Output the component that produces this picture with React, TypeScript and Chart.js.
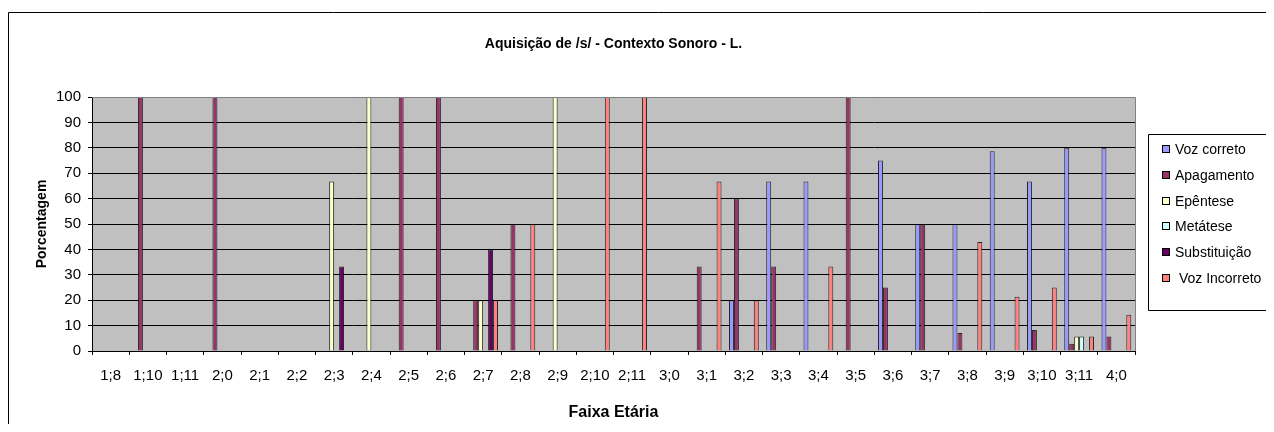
import React, { useEffect, useRef } from "react";
import { Chart, registerables } from "chart.js";

Chart.register(...registerables);

const categories = ["1;8", "1;10", "1;11", "2;0", "2;1", "2;2", "2;3", "2;4", "2;5", "2;6", "2;7", "2;8", "2;9", "2;10", "2;11", "3;0", "3;1", "3;2", "3;3", "3;4", "3;5", "3;6", "3;7", "3;8", "3;9", "3;10", "3;11", "4;0"];

const vozCorreto = [null, null, null, null, null, null, null, null, null, null, null, null, null, null, null, null, null, 20, 66.7, 66.7, null, 75, 50, 50, 78.6, 66.7, 80, 80];
const apagamento = [null, 100, null, 100, null, null, null, null, 100, 100, 20, 50, null, null, null, null, 33.3, 60, 33.3, null, 100, 25, 50, 7.1, null, 8.3, 2.9, 5.7];
const epentese = [null, null, null, null, null, null, 66.7, 100, null, null, 20, null, 100, null, null, null, null, null, null, null, null, null, null, null, null, null, 5.7, null];
const metatese = [null, null, null, null, null, null, null, null, null, null, null, null, null, null, null, null, null, null, null, null, null, null, null, null, null, null, 5.7, null];
const substituicao = [null, null, null, null, null, null, 33.3, null, null, null, 40, null, null, null, null, null, null, null, null, null, null, null, null, null, null, null, null, null];
const vozIncorreto = [null, null, null, null, null, null, null, null, null, null, 20, 50, null, 100, 100, null, 66.7, 20, null, 33.3, null, null, null, 42.9, 21.4, 25, 5.7, 14.3];

const seriesLabels = ["Voz correto", "Apagamento", "Epêntese", "Metátese", "Substituição", " Voz Incorreto"];
const seriesColors = ["#9999FF", "#993366", "#FFFFCC", "#CCFFFF", "#660066", "#FF8080"];
const yTicks = [0, 10, 20, 30, 40, 50, 60, 70, 80, 90, 100];

const chartTitle = "Aquisição de /s/ - Contexto Sonoro - L.";
const FONT = "'Liberation Sans', Arial, sans-serif";
const CANVAS_W = 1300;

const decorPlugin = {
  id: "decor",
  beforeDraw(chart: any) {
    const { ctx, chartArea } = chart;
    ctx.save();
    ctx.fillStyle = "#C0C0C0";
    ctx.fillRect(chartArea.left, chartArea.top, chartArea.right - chartArea.left, chartArea.bottom - chartArea.top);
    ctx.restore();
  },
  afterDraw(chart: any) {
    const { ctx, chartArea } = chart;
    ctx.save();
    // plot area border (top, right)
    ctx.strokeStyle = "#808080";
    ctx.lineWidth = 1;
    ctx.beginPath();
    ctx.moveTo(chartArea.left, chartArea.top + 0.5);
    ctx.lineTo(chartArea.right + 0.5, chartArea.top + 0.5);
    ctx.lineTo(chartArea.right + 0.5, chartArea.bottom);
    ctx.stroke();

    // outer chart border
    ctx.strokeStyle = "#000000";
    ctx.beginPath();
    ctx.moveTo(0.5, chart.height + 10);
    ctx.lineTo(0.5, 4.5);
    ctx.lineTo(chart.width + 10, 4.5);
    ctx.stroke();

    // title
    ctx.fillStyle = "#000";
    ctx.font = "bold 14px " + FONT;
    ctx.textAlign = "center";
    ctx.textBaseline = "middle";
    ctx.fillText(chartTitle, (chartArea.left + chartArea.right) / 2, 36);

    // legend (box runs past the right edge)
    const lx = 1140.5;
    const ly = 126.5;
    const lb = 302.5;
    ctx.fillStyle = "#FFFFFF";
    ctx.fillRect(lx, ly, chart.width - lx + 5, lb - ly);
    ctx.strokeStyle = "#000";
    ctx.beginPath();
    ctx.moveTo(chart.width + 5, ly);
    ctx.lineTo(lx, ly);
    ctx.lineTo(lx, lb);
    ctx.lineTo(chart.width + 5, lb);
    ctx.stroke();
    ctx.font = "14px " + FONT;
    ctx.textAlign = "left";
    chart.data.datasets.forEach((ds: any, i: number) => {
      const cy = Math.round(141 + i * 25.8);
      ctx.fillStyle = ds.backgroundColor;
      ctx.fillRect(1154, cy - 4, 8, 8);
      ctx.strokeStyle = "#000";
      ctx.strokeRect(1154.5, cy - 3.5, 7, 7);
      ctx.fillStyle = "#000";
      ctx.fillText(ds.label, 1167, cy + 1);
    });
    ctx.restore();
  },
};

export default function App() {
  const canvasRef = useRef<HTMLCanvasElement | null>(null);

  useEffect(() => {
    document.body.style.overflow = "hidden";
    const allSeries = [vozCorreto, apagamento, epentese, metatese, substituicao, vozIncorreto];
    const chart = new Chart(canvasRef.current as HTMLCanvasElement, {
      type: "bar",
      data: {
        labels: categories,
        datasets: allSeries.map((d, i) => ({
          label: seriesLabels[i],
          data: d,
          backgroundColor: seriesColors[i],
          borderColor: "rgba(0,0,0,0.8)",
          borderWidth: 1,
          borderSkipped: "start",
          categoryPercentage: 0.8,
          barPercentage: 1.0,
        })),
      },
      options: {
        animation: false,
        responsive: true,
        maintainAspectRatio: false,
        layout: { padding: { top: 89, right: CANVAS_W - 1127, left: 0, bottom: 0 } },
        plugins: {
          legend: { display: false },
          title: { display: false },
          tooltip: { enabled: false },
        },
        scales: {
          x: {
            afterFit(scale: any) {
              scale.height = 73;
            },
            grid: { display: true, drawOnChartArea: false, drawTicks: true, tickLength: 4, color: "#000", offset: true },
            border: { display: true, color: "#000" },
            ticks: { color: "#000", font: { family: FONT, size: 15 }, padding: 12, autoSkip: false, maxRotation: 0 },
            title: { display: true, text: "Faixa Etária", color: "#000", font: { family: FONT, size: 16, weight: "bold" }, padding: { top: 0, bottom: 2 } },
          },
          y: {
            min: 0,
            max: 100,
            afterFit(scale: any) {
              scale.width = 84;
            },
            afterBuildTicks(scale: any) {
              scale.ticks = yTicks.map((v) => ({ value: v }));
            },
            grid: { color: "#000", tickLength: 4, drawTicks: true },
            border: { display: true, color: "#000" },
            ticks: { color: "#000", font: { family: FONT, size: 15 }, padding: 7 },
            title: { display: true, text: "Porcentagem", color: "#000", font: { family: FONT, size: 14, weight: "bold" }, padding: { top: 26, bottom: 0 } },
          },
        },
      },
      plugins: [decorPlugin],
    } as any);
    return () => chart.destroy();
  }, []);

  return (
    <div style={{ position: "relative", width: CANVAS_W, height: 416 }}>
      <canvas ref={canvasRef} />
    </div>
  );
}
